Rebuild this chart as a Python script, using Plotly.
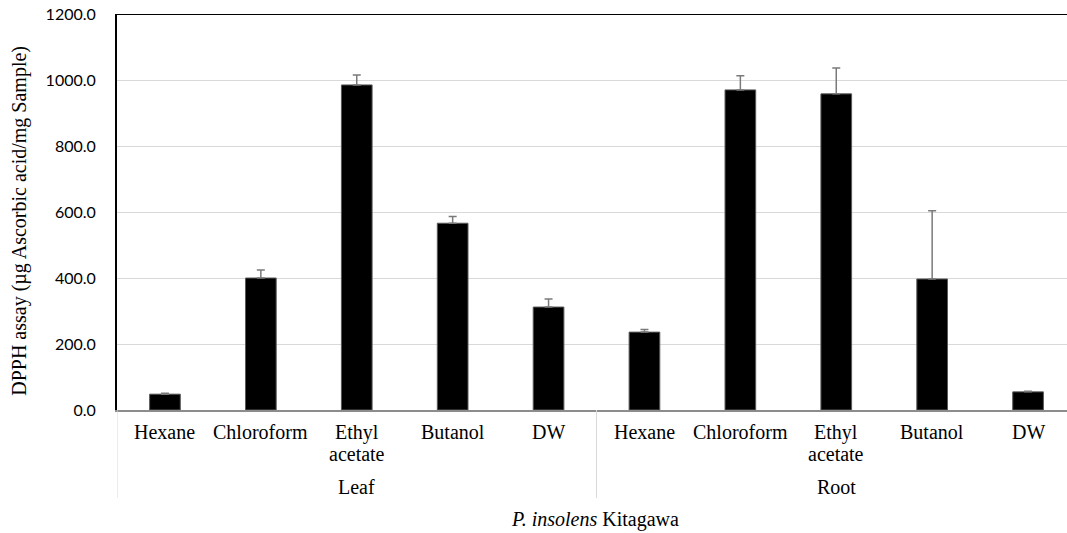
import plotly.graph_objects as go

# DPPH radical scavenging activity by solvent fraction and plant part
plant_parts = ["Leaf", "Root"]
solvents = ["Hexane", "Chloroform", "Ethyl\nacetate", "Butanol", "DW"]
dpph_mean = [48, 400, 985, 566, 312, 236, 970, 958, 397, 55]
dpph_sd = [3, 24, 30, 20, 24, 8, 43, 78, 207, 2]

serif = "Liberation Serif"
sans = "Lato"

n_solv = len(solvents)
x_pos = list(range(len(plant_parts) * n_solv))
cat_labels = solvents * len(plant_parts)

# the category axis runs slightly past the right edge of the canvas
x_range = [-0.5, len(x_pos) - 0.594]

# plot area height in pixels, used to place text below the axis
plot_h = 533 - 14 - 123


def below_axis(px):
    """Paper y coordinate for a point px pixels below the x axis."""
    return -px / plot_h


fig = go.Figure(
    go.Bar(
        x=x_pos,
        y=dpph_mean,
        width=0.32,
        marker=dict(color="black", line=dict(color="#5a5a5a", width=1)),
        error_y=dict(
            type="data",
            symmetric=False,
            array=dpph_sd,
            arrayminus=[0] * len(dpph_sd),
            color="#7a7a7a",
            thickness=1.5,
            width=4,
        ),
    )
)

# group dividers below the category axis
bounds = [-0.5 + k * n_solv for k in range(len(plant_parts) + 1)]
shapes = [
    dict(type="line", xref="x", yref="paper", x0=b, x1=b, y0=0, y1=below_axis(88),
         line=dict(color="#d9d9d9", width=1))
    for b in bounds if b < x_range[1]
]
# top frame line
shapes.append(
    dict(type="line", xref="paper", yref="y", x0=0, x1=1, y0=1200, y1=1200,
         line=dict(color="black", width=2))
)

label_font = dict(family=serif, size=20, color="black")
annotations = []
# solvent labels, one line at a time for tight spacing
for xi, label in zip(x_pos, cat_labels):
    for li, line in enumerate(label.split("\n")):
        annotations.append(
            dict(text=line, xref="x", yref="paper", x=xi, y=below_axis(22 + 22 * li),
                 xanchor="center", yanchor="middle", showarrow=False, font=label_font)
        )
# plant part group labels
for k, part in enumerate(plant_parts):
    annotations.append(
        dict(text=part, xref="x", yref="paper", x=k * n_solv + (n_solv - 1) / 2,
             y=below_axis(77), xanchor="center", yanchor="middle", showarrow=False,
             font=label_font)
    )
annotations.append(
    dict(text="<i>P. insolens</i> Kitagawa", xref="paper", yref="paper",
         x=0.503, y=below_axis(109), xanchor="center", yanchor="middle", showarrow=False,
         font=label_font)
)
annotations.append(
    dict(text="DPPH assay (µg Ascorbic acid/mg Sample)", xref="paper", yref="paper",
         x=-0.102, y=0.478, xanchor="center", yanchor="middle", textangle=-90,
         showarrow=False, font=label_font)
)

fig.update_layout(
    width=1067,
    height=533,
    margin=dict(l=117, r=0, t=14, b=123),
    paper_bgcolor="white",
    plot_bgcolor="white",
    showlegend=False,
    xaxis=dict(
        range=x_range,
        showticklabels=False,
        ticks="",
        showline=True,
        linecolor="#8c8c8c",
        linewidth=1.5,
        showgrid=False,
        zeroline=False,
    ),
    yaxis=dict(
        range=[0, 1200],
        dtick=200,
        tickformat=".1f",
        showline=True,
        linecolor="black",
        linewidth=2,
        gridcolor="#d9d9d9",
        gridwidth=1,
        zeroline=False,
        ticks="",
        ticklabelstandoff=16,
        tickfont=dict(family=sans, size=16, color="black"),
    ),
    shapes=shapes,
    annotations=annotations,
)

fig.write_html("out.html")
